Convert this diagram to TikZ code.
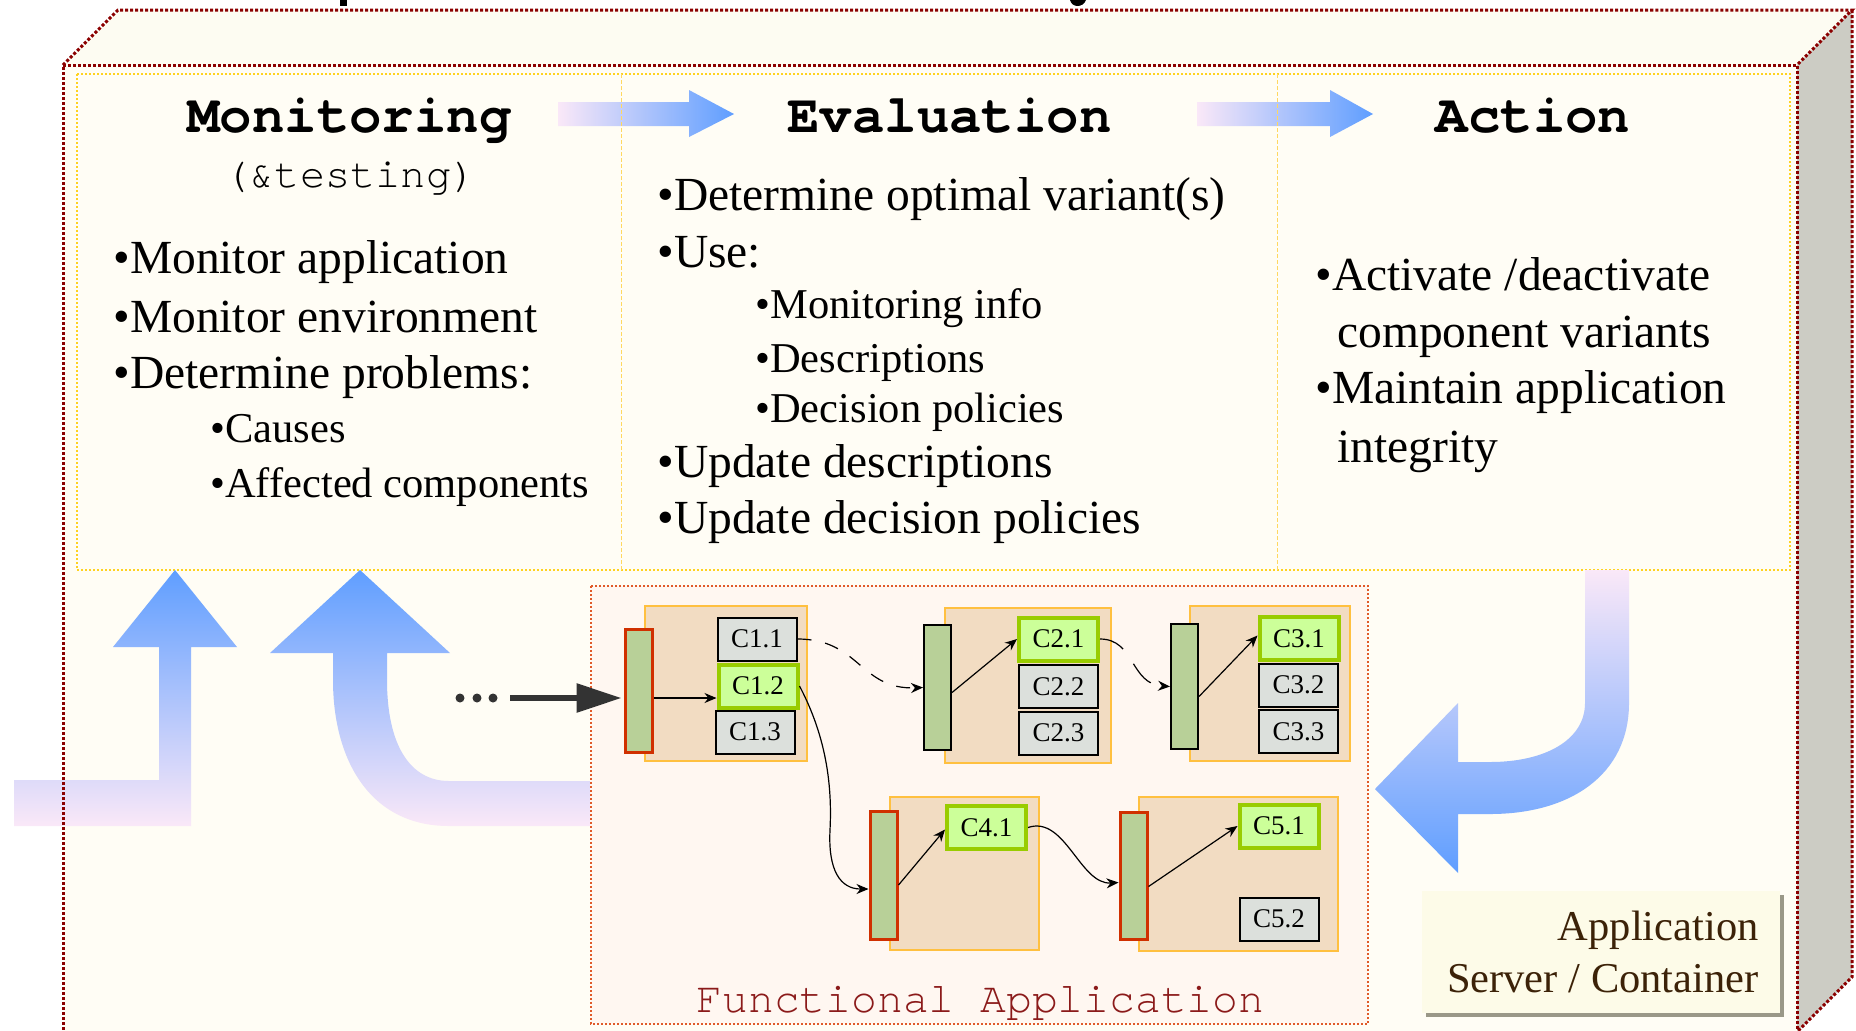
\documentclass[tikz,border=0pt]{standalone}
\usepackage{fontspec}
\setmainfont{Liberation Serif}
\newfontfamily\cursor{TeX Gyre Cursor}
\usetikzlibrary{arrows.meta,calc}

\definecolor{boxred}{HTML}{8B0000}
\definecolor{frontfill}{HTML}{FFFDF5}
\definecolor{topfill}{HTML}{FDFCF2}
\definecolor{sidegray}{HTML}{CCCCC4}
\definecolor{yel}{HTML}{FFD21F}
\definecolor{yeldiv}{HTML}{FFD860}
\definecolor{arrblue}{HTML}{5F9EFF}
\definecolor{arrpink}{HTML}{FAE8F8}
\definecolor{tanfill}{HTML}{F2DCC2}
\definecolor{tanline}{HTML}{FFC040}
\definecolor{barfill}{HTML}{B8D098}
\definecolor{barred}{HTML}{D03000}
\definecolor{compgray}{HTML}{DCE0DC}
\definecolor{compgreen}{HTML}{CCFF99}
\definecolor{greenline}{HTML}{99CC00}
\definecolor{faline}{HTML}{E05A2A}
\definecolor{fafill}{HTML}{FFF7F1}
\definecolor{fatext}{HTML}{8B1A1A}
\definecolor{appfill}{HTML}{FDFBE8}
\definecolor{appshadow}{HTML}{9A9888}
\definecolor{apptext}{HTML}{3C2208}
\definecolor{dotgray}{HTML}{333333}

\begin{document}
\begin{tikzpicture}[x=0.5pt,y=-0.5pt,
  outerline/.style={draw=boxred, line width=1.5pt, dash pattern=on 1.5pt off 1pt},
  tanbox/.style={draw=tanline, line width=1pt, fill=tanfill, inner sep=0pt},
  barbox/.style={draw=barred, line width=1.5pt, fill=barfill, inner sep=0pt, minimum width=13.5pt},
  barblack/.style={barbox, draw=black, line width=1pt},
  comp/.style={draw=black, line width=1pt, fill=compgray, inner sep=0pt,
    font=\fontsize{13.5pt}{13.5pt}\selectfont, minimum width=39.5pt, minimum height=21.5pt},
  compg/.style={comp, draw=greenline, line width=2pt, fill=compgreen},
  link/.style={line width=0.6pt, -{Stealth[length=6pt,width=5pt]}},
  head/.style={font=\cursor\bfseries\fontsize{27pt}{27pt}\selectfont, anchor=base, inner sep=0pt},
  bul/.style={font=\fontsize{23.75pt}{23.75pt}\selectfont, anchor=base west, inner sep=0pt},
  subbul/.style={font=\fontsize{21.25pt}{21.25pt}\selectfont, anchor=base west, inner sep=0pt},
  apptxt/.style={font=\fontsize{21.25pt}{21.25pt}\selectfont, anchor=base east, inner sep=0pt, text=apptext}
]
\useasboundingbox (0,0) rectangle (1856,1030);
\fill[white] (0,0) rectangle (1856,1030);

% title descender fragments
\fill[black] (340,0) rectangle (347,6);
\fill[black] (1070,0) .. controls (1072,8) and (1083,8) .. (1086,0) -- cycle;

% box faces
\fill[frontfill] (63,65) rectangle (1797,1032);
\fill[topfill] (63,65) -- (118,10) -- (1852,10) -- (1797,65) -- cycle;
\fill[sidegray] (1797,65) -- (1852,10) -- (1852,977) -- (1797,1032) -- cycle;

% inner yellow frame
\draw[yel, line width=0.75pt, dash pattern=on 1pt off 1pt] (77,74) rectangle (1790,570);

% heading arrows
\shade[left color=arrpink, right color=arrblue]
  (558,102) -- (689,102) -- (689,90) -- (734,114) -- (689,137) -- (689,126) -- (558,126) -- cycle;
\shade[left color=arrpink, right color=arrblue]
  (1197,102) -- (1330,102) -- (1330,90) -- (1373,114) -- (1330,137) -- (1330,126) -- (1197,126) -- cycle;

\draw[yeldiv, line width=0.5pt, dash pattern=on 2pt off 1pt] (621,74) -- (621,570);
\draw[yeldiv, line width=0.5pt, dash pattern=on 2pt off 1pt] (1277,74) -- (1277,570);

% headings
\node[head] (hmon) at (349.5,132) {Monitoring};
\node[font=\cursor\fontsize{21pt}{21pt}\selectfont, anchor=base, inner sep=0pt] (htest) at (350.5,187) {(\&testing)};
\node[head] (heval) at (949.5,132) {Evaluation};
\node[head] (hact) at (1533,132) {Action};

% Monitoring bullets
\node[bul] (m1) at (113,273) {•Monitor application};
\node[bul] (m2) at (113,332) {•Monitor environment};
\node[bul] (m3) at (113,388) {•Determine problems:};
\node[subbul] (m4) at (210,442) {•Causes};
\node[subbul] (m5) at (210,497) {•Affected components};

% Evaluation bullets
\node[bul] (e1) at (657,210) {•Determine optimal variant(s)};
\node[bul] (e2) at (657,267) {•Use:};
\node[subbul] (e3) at (755,318) {•Monitoring info};
\node[subbul] (e4) at (755,372) {•Descriptions};
\node[subbul] (e5) at (755,422) {•Decision policies};
\node[bul] (e6) at (657,477) {•Update descriptions};
\node[bul] (e7) at (657,533) {•Update decision policies};

% Action bullets
\node[bul] (a1) at (1315,290) {•Activate /deactivate};
\node[bul] (a2) at (1337,347) {component variants};
\node[bul] (a3) at (1315,403) {•Maintain application};
\node[bul] (a4) at (1337,462) {integrity};

% big bottom arrows
\shade[top color=arrblue, bottom color=arrpink]
  (14,780) -- (159,780) -- (159,647) -- (113,647) -- (175,570) -- (237,647) -- (191,647)
  -- (191,826) -- (14,826) -- cycle;
\shade[top color=arrblue, bottom color=arrpink]
  (270,653) -- (360,570) -- (450,653) -- (387,653) -- (387,680)
  .. controls (387,745) and (410,781) .. (449,781) -- (590,781) -- (590,826) -- (449,826)
  .. controls (370,826) and (333,760) .. (333,680) -- (333,653) -- cycle;
\shade[top color=arrpink, bottom color=arrblue]
  (1585,570) -- (1629,570) -- (1629,703) .. controls (1629,775) and (1570,814) .. (1490,814)
  -- (1458,814) -- (1458,873) -- (1375,789) -- (1458,703) -- (1458,762) -- (1490,762)
  .. controls (1545,762) and (1585,740) .. (1585,703) -- cycle;

% Functional application box
\fill[fafill] (591,586) rectangle (1368,1024);
\draw[faline, line width=0.75pt, dash pattern=on 1pt off 1pt] (591,586) rectangle (1368,1024);
\node[font=\cursor\fontsize{21.5pt}{21.5pt}\selectfont, text=fatext, anchor=base, inner sep=0pt] (fa) at (980.5,1012) {Functional Application};

% groups
\node[tanbox, minimum width=81pt, minimum height=77.5pt] (g1) at (726,683.5) {};
\node[tanbox, minimum width=83pt, minimum height=77.5pt] (g2) at (1028,685.5) {};
\node[tanbox, minimum width=80pt, minimum height=77.5pt] (g3) at (1270,683.5) {};
\node[tanbox, minimum width=74.5pt, minimum height=76.5pt] (g4) at (964.5,873.5) {};
\node[tanbox, minimum width=99.5pt, minimum height=77pt] (g5) at (1238.5,874) {};

\node[barbox, minimum height=61.5pt] (bar1) at (638.5,690.5) {};
\node[barblack, minimum height=62.5pt] (bar2) at (937.5,687.5) {};
\node[barblack, minimum height=62.5pt] (bar3) at (1184.5,686.5) {};
\node[barbox, minimum height=64pt] (bar4) at (883.5,875) {};
\node[barbox, minimum height=63.5pt] (bar5) at (1133.5,875.5) {};

\node[comp] (c11) at (757,639) {C1.1};
\node[compg] (c12) at (758,686) {C1.2};
\node[comp] (c13) at (755,732) {C1.3};
\node[compg] (c21) at (1058.5,639) {C2.1};
\node[comp] (c22) at (1058.5,686.5) {C2.2};
\node[comp] (c23) at (1058.5,733) {C2.3};
\node[compg] (c31) at (1299,638.5) {C3.1};
\node[comp] (c32) at (1298.5,685) {C3.2};
\node[comp] (c33) at (1298.5,731.5) {C3.3};
\node[compg] (c41) at (986.5,827.5) {C4.1};
\node[compg] (c51) at (1279,826) {C5.1};
\node[comp] (c52) at (1279,919) {C5.2};

% incoming ellipsis and arrow
\fill[dotgray] (460,698) circle (4.5);
\fill[dotgray] (477,698) circle (4.5);
\fill[dotgray] (493,698) circle (4.5);
\coordinate (ellend) at (510,698);
\draw[dotgray, line width=3pt, -{Triangle[length=22.5pt,width=14pt]}] (ellend) -- ($(bar1.west |- ellend)+(-2,0)$);

% internal arrows
\draw[link] (bar1.east |- ellend) -- (c12.west |- ellend);
\draw[link] ($(bar2.east)+(0,5)$) -- (c21.west);
\draw[link] ($(bar3.east)+(0,10)$) -- ($(c31.west)+(0,-3)$);
\draw[link] ($(bar4.east)+(0,10)$) -- ($(c41.west)+(0,2)$);
\draw[link] ($(bar5.east)+(0,11)$) -- (c51.west);

% connectors between groups
\draw[link, dash pattern=on 7pt off 7pt] (c11.east) .. controls (860,639) and (860,690) .. (bar2.west);
\draw[link, dash pattern=on 13pt off 9pt] (c21.east) .. controls (1135,639) and (1130,684) .. (bar3.west);
\draw[link] (c12.east) .. controls (828,740) and (832,790) .. (830,830)
  .. controls (828,870) and (840,889) .. ($(bar4.west)+(0,14)$);
\draw[link] (c41.east) .. controls (1065,815) and (1080,885) .. ($(bar5.west)+(0,7)$);

% application server box
\fill[appshadow] (1426,895) rectangle (1784,1017);
\node[fill=appfill, inner sep=0pt, minimum width=179pt, minimum height=61pt] (app) at (1601,952) {};
\node[apptxt] (app1) at (1759,940) {Application};
\node[apptxt] (app2) at (1759,992) {Server / Container};

% outer box outlines
\draw[outerline] (63,1040) -- (63,65) -- (1797,65) -- (1797,1040);
\draw[outerline] (63,65) -- (118,10) -- (1852,10) -- (1797,65);
\draw[outerline] (1852,10) -- (1852,977) -- (1797,1032);
\end{tikzpicture}
\end{document}
